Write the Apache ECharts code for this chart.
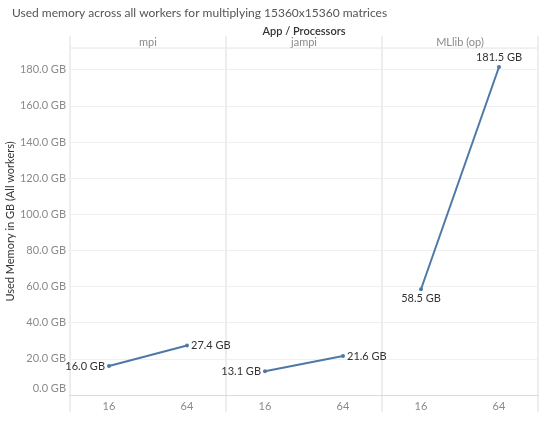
<!DOCTYPE html>
<html>
<head>
<meta charset="utf-8">
<script src="https://cdn.jsdelivr.net/npm/echarts@6/dist/echarts.min.js"></script>
<style>
  html, body { margin: 0; padding: 0; background: #fff; }
  #chart { width: 550px; height: 424px; }
</style>
</head>
<body>
<div id="chart"></div>
<script>
// Data
const apps = ['mpi', 'jampi', 'MLlib (op)']
const processors = ['16', '64']
const mpiMemory = [16.0, 27.4]
const jampiMemory = [13.1, 21.6]
const mllibMemory = [58.5, 181.5]
const yTicks = [0, 20, 40, 60, 80, 100, 120, 140, 160, 180]

const memoryByApp = [mpiMemory, jampiMemory, mllibMemory]

// Layout
const plotLeft = 70
const panelWidth = 156
const plotTop = 48
const plotHeight = 347
const font = 'Lato'

// label placement per panel
const labelPlacement = [
  ['left', 'right'],
  ['left', 'right'],
  ['bottom', 'top']
]

const chart = echarts.init(document.getElementById('chart'))

const grids = apps.map((app, i) => ({
  left: plotLeft + panelWidth * i,
  top: plotTop,
  width: panelWidth,
  height: plotHeight
}))

const xAxes = apps.map((app, i) => ({
  type: 'category',
  gridIndex: i,
  data: processors,
  boundaryGap: true,
  axisLine: { show: true, lineStyle: { color: '#dcdcdc' } },
  axisTick: { show: false },
  axisLabel: { color: '#8a8a8a', fontSize: 11, fontFamily: font, margin: 6 }
}))

const yAxes = apps.map((app, i) => ({
  type: 'value',
  gridIndex: i,
  min: 0,
  max: 192,
  interval: 20,
  name: i === 0 ? 'Used Memory in GB (All workers)' : '',
  nameLocation: 'middle',
  nameGap: 50,
  nameTextStyle: { color: '#333', fontSize: 11, fontFamily: font },
  axisLine: { show: false },
  axisTick: { show: false },
  splitLine: { show: true, lineStyle: { color: '#efefef' } },
  axisLabel: {
    show: i === 0,
    color: '#8a8a8a',
    fontSize: 11,
    fontFamily: font,
    margin: 4,
    showMaxLabel: false,
    formatter: v => {
      if (!yTicks.includes(v)) return ''
      const txt = v.toFixed(1) + ' GB'
      return v === 0 ? '{z|' + txt + '}' : txt
    },
    rich: {
      z: { color: '#8a8a8a', fontSize: 11, fontFamily: font, padding: [0, 0, 14, 0] }
    }
  }
}))

const series = apps.map((app, i) => ({
  name: app,
  type: 'line',
  xAxisIndex: i,
  yAxisIndex: i,
  data: memoryByApp[i].map((v, j) => ({
    value: v,
    label: { position: labelPlacement[i][j] }
  })),
  symbol: 'circle',
  symbolSize: 4,
  lineStyle: { width: 2, color: '#4e79a7' },
  itemStyle: { color: '#4e79a7' },
  label: {
    show: true,
    distance: 2,
    color: '#333',
    fontSize: 11,
    fontFamily: font,
    formatter: p => p.value.toFixed(1) + ' GB'
  }
}))

// panel frame lines and header texts
const graphics = []
for (let i = 0; i <= apps.length; i++) {
  const x = plotLeft + panelWidth * i
  graphics.push({
    type: 'line',
    shape: { x1: x, y1: 36, x2: x, y2: 412 },
    style: { stroke: '#dcdcdc', lineWidth: 1 },
    silent: true
  })
}
graphics.push({
  type: 'line',
  shape: { x1: plotLeft, y1: plotTop, x2: plotLeft + panelWidth * apps.length, y2: plotTop },
  style: { stroke: '#e6e6e6', lineWidth: 1 },
  silent: true
})
graphics.push({
  type: 'text',
  x: plotLeft + panelWidth * apps.length / 2,
  y: 31,
  style: {
    text: 'App / Processors',
    align: 'center',
    verticalAlign: 'middle',
    fill: '#333',
    font: '600 11px ' + font
  }
})
apps.forEach((app, i) => {
  graphics.push({
    type: 'text',
    x: plotLeft + panelWidth * i + panelWidth / 2,
    y: 42.5,
    style: {
      text: app,
      align: 'center',
      verticalAlign: 'middle',
      fill: '#8a8a8a',
      font: '11px ' + font
    }
  })
})

chart.setOption({
  animation: false,
  title: {
    text: 'Used memory across all workers for multiplying 15360x15360 matrices',
    left: 7,
    top: 2,
    textStyle: { color: '#555', fontSize: 12, fontWeight: 'normal', fontFamily: font }
  },
  grid: grids,
  xAxis: xAxes,
  yAxis: yAxes,
  series: series,
  graphic: graphics
})

window.addEventListener('resize', () => {
  chart.resize()
})
</script>
</body>
</html>
